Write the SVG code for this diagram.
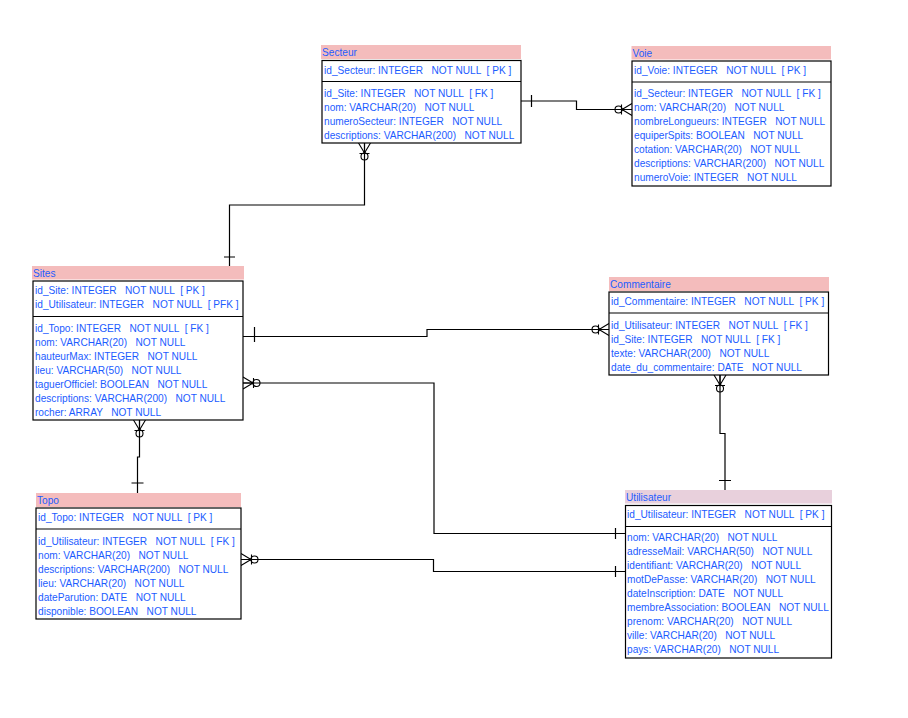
<svg xmlns="http://www.w3.org/2000/svg" width="908" height="718" viewBox="0 0 908 718">
<style>
.hd{fill:#f4bcbc}
.hdu{fill:#e8d0dc}
.box{fill:#ffffff;stroke:#000;stroke-width:1.2}
.dv{stroke:#000;stroke-width:1.2}
text{font-family:"Liberation Sans",Arial,sans-serif;font-size:10.15px;fill:#1c5cff;white-space:pre}
.cn{fill:none;stroke:#000;stroke-width:1.2}
</style>
<defs>
<g id="cf" fill="none" stroke="#000" stroke-width="1.1">
<path d="M-10,0 L0,-6 M-10,0 L0,0 M-10,0 L0,6 M-10.5,-5 V5"/>
<circle cx="-13.5" cy="0" r="3.5"/>
<circle cx="-10" cy="0" r="1.2" fill="#000" stroke="none"/>
</g>
</defs>
<rect width="908" height="718" fill="#ffffff"/>

<g id="connectors">
<path class="cn" d="M521,101 H576.5 V109.5 H632 M531.5,95 V107"/>
<use href="#cf" transform="translate(632,109.5)"/>
<path class="cn" d="M364.5,143 V205 H229.5 V266 M224,257 H235"/>
<use href="#cf" transform="translate(364.5,143) rotate(-90)"/>
<path class="cn" d="M243,336.5 H427 V329.5 H609 M254.5,327 V342"/>
<use href="#cf" transform="translate(609,329.5)"/>
<path class="cn" d="M243,383 H434 V533.5 H625.5 M615.5,528 V539"/>
<use href="#cf" transform="translate(243,383) rotate(180)"/>
<path class="cn" d="M139.5,420 V457 H137.5 V493 M131.5,483 H143.5"/>
<use href="#cf" transform="translate(139.5,420) rotate(-90)"/>
<path class="cn" d="M241,559.5 H433.5 V571.5 H625.5 M615.5,566 V577"/>
<use href="#cf" transform="translate(241,559.5) rotate(180)"/>
<path class="cn" d="M720,375 V433.5 H725 V490 M719,480.5 H731"/>
<use href="#cf" transform="translate(720,375) rotate(-90)"/>
</g>

<g id="secteur">
<rect class="hd" x="321" y="45" width="200" height="14"/>
<text x="322" y="55.7">Secteur</text>
<rect class="box" x="322" y="60.5" width="199" height="82.5"/>
<line class="dv" x1="322" y1="81.5" x2="521" y2="81.5"/>
<text x="324" y="73.5">id_Secteur: INTEGER   NOT NULL  [ PK ]</text>
<text x="324" y="96.5">id_Site: INTEGER   NOT NULL  [ FK ]</text>
<text x="324" y="110.5">nom: VARCHAR(20)   NOT NULL</text>
<text x="324" y="124.5">numeroSecteur: INTEGER   NOT NULL</text>
<text x="324" y="138.5">descriptions: VARCHAR(200)   NOT NULL</text>
</g>

<g id="voie">
<rect class="hd" x="631.5" y="46" width="199.5" height="13.5"/>
<text x="632.5" y="56.5">Voie</text>
<rect class="box" x="632" y="61" width="199" height="125"/>
<line class="dv" x1="632" y1="82" x2="831" y2="82"/>
<text x="634" y="74">id_Voie: INTEGER   NOT NULL  [ PK ]</text>
<text x="634" y="97">id_Secteur: INTEGER   NOT NULL  [ FK ]</text>
<text x="634" y="111">nom: VARCHAR(20)   NOT NULL</text>
<text x="634" y="125">nombreLongueurs: INTEGER   NOT NULL</text>
<text x="634" y="139">equiperSpits: BOOLEAN   NOT NULL</text>
<text x="634" y="153">cotation: VARCHAR(20)   NOT NULL</text>
<text x="634" y="167">descriptions: VARCHAR(200)   NOT NULL</text>
<text x="634" y="181">numeroVoie: INTEGER   NOT NULL</text>
</g>

<g id="sites">
<rect class="hd" x="32" y="266" width="212" height="13.5"/>
<text x="33" y="276.5">Sites</text>
<rect class="box" x="33" y="281" width="210" height="139"/>
<line class="dv" x1="33" y1="316.5" x2="243" y2="316.5"/>
<text x="35" y="294">id_Site: INTEGER   NOT NULL  [ PK ]</text>
<text x="35" y="308">id_Utilisateur: INTEGER   NOT NULL  [ PFK ]</text>
<text x="35" y="331.5">id_Topo: INTEGER   NOT NULL  [ FK ]</text>
<text x="35" y="345.5">nom: VARCHAR(20)   NOT NULL</text>
<text x="35" y="359.5">hauteurMax: INTEGER   NOT NULL</text>
<text x="35" y="373.5">lieu: VARCHAR(50)   NOT NULL</text>
<text x="35" y="387.5">taguerOfficiel: BOOLEAN   NOT NULL</text>
<text x="35" y="401.5">descriptions: VARCHAR(200)   NOT NULL</text>
<text x="35" y="415.5">rocher: ARRAY   NOT NULL</text>
</g>

<g id="commentaire">
<rect class="hd" x="609" y="277" width="220" height="14"/>
<text x="610" y="287.5">Commentaire</text>
<rect class="box" x="609" y="292" width="219.5" height="83"/>
<line class="dv" x1="609" y1="313" x2="828.5" y2="313"/>
<text x="611" y="305">id_Commentaire: INTEGER   NOT NULL  [ PK ]</text>
<text x="611" y="328.5">id_Utilisateur: INTEGER   NOT NULL  [ FK ]</text>
<text x="611" y="342.5">id_Site: INTEGER   NOT NULL  [ FK ]</text>
<text x="611" y="356.5">texte: VARCHAR(200)   NOT NULL</text>
<text x="611" y="370.5">date_du_commentaire: DATE   NOT NULL</text>
</g>

<g id="topo">
<rect class="hd" x="36" y="493" width="205" height="14"/>
<text x="37" y="503.5">Topo</text>
<rect class="box" x="36" y="508" width="205" height="111"/>
<line class="dv" x1="36" y1="529" x2="241" y2="529"/>
<text x="38" y="521">id_Topo: INTEGER   NOT NULL  [ PK ]</text>
<text x="38" y="545">id_Utilisateur: INTEGER   NOT NULL  [ FK ]</text>
<text x="38" y="559">nom: VARCHAR(20)   NOT NULL</text>
<text x="38" y="573">descriptions: VARCHAR(200)   NOT NULL</text>
<text x="38" y="587">lieu: VARCHAR(20)   NOT NULL</text>
<text x="38" y="601">dateParution: DATE   NOT NULL</text>
<text x="38" y="615">disponible: BOOLEAN   NOT NULL</text>
</g>

<g id="utilisateur">
<rect class="hdu" x="625" y="490" width="207" height="13.5"/>
<text x="626" y="500.5">Utilisateur</text>
<rect class="box" x="625.5" y="505.5" width="206" height="152.5"/>
<line class="dv" x1="625.5" y1="526.5" x2="831.5" y2="526.5"/>
<text x="627" y="518">id_Utilisateur: INTEGER   NOT NULL  [ PK ]</text>
<text x="627" y="541">nom: VARCHAR(20)   NOT NULL</text>
<text x="627" y="555">adresseMail: VARCHAR(50)   NOT NULL</text>
<text x="627" y="569">identifiant: VARCHAR(20)   NOT NULL</text>
<text x="627" y="583">motDePasse: VARCHAR(20)   NOT NULL</text>
<text x="627" y="597">dateInscription: DATE   NOT NULL</text>
<text x="627" y="611">membreAssociation: BOOLEAN   NOT NULL</text>
<text x="627" y="625">prenom: VARCHAR(20)   NOT NULL</text>
<text x="627" y="639">ville: VARCHAR(20)   NOT NULL</text>
<text x="627" y="653">pays: VARCHAR(20)   NOT NULL</text>
</g>
</svg>
